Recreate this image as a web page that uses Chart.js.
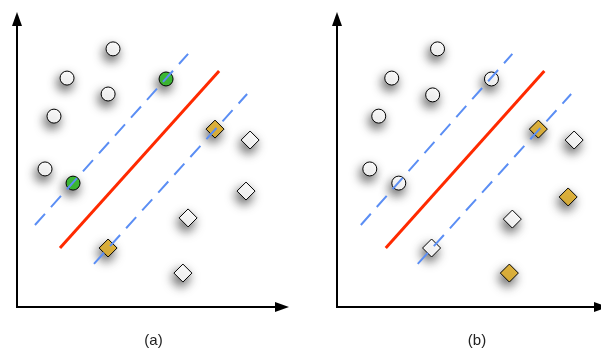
<!DOCTYPE html>
<html>
<head>
<meta charset="utf-8">
<title>SVM margins (a) / (b)</title>
<script src="https://cdn.jsdelivr.net/npm/chart.js@4.4.1/dist/chart.umd.min.js"></script>
<style>
    html, body { margin: 0; padding: 0; background: #fff; }
    #wrap { position: relative; width: 601px; height: 352px; overflow: hidden; }
    .panel { position: absolute; top: 0; height: 352px; }
    #panel-a { left: 0; width: 310px; }
    #panel-b { left: 320px; width: 300px; }
    .caption {
        position: absolute; top: 331px; width: 60px; line-height: 18px;
        text-align: center; color: #222;
        font: 15px "Liberation Sans", Arial, sans-serif;
    }
</style>
</head>
<body>
<div id="wrap">
    <div class="panel" id="panel-a"><canvas id="chart-a"></canvas></div>
    <div class="panel" id="panel-b"><canvas id="chart-b"></canvas></div>
    <div class="caption" style="left: 123.5px;">(a)</div>
    <div class="caption" style="left: 447px;">(b)</div>
</div>
<script>
// both axes run 0..10, arrow tips sit at 10
const AXIS_MAX = 10;

// panel (a) — [x, y]
const aCircles = [[3.53, 8.75], [1.84, 7.76], [3.35, 7.22], [1.36, 6.47], [1.03, 4.68]];
const aCircleSupport = [[5.48, 7.73], [2.06, 4.20]];
const aDiamondSupport = [[7.28, 6.03], [3.35, 2.00]];
const aDiamonds = [[8.57, 5.66], [8.42, 3.93], [6.29, 3.02], [6.10, 1.15]];
const aHyperplane = [[1.58, 2.00], [7.43, 8.00]];
const aMarginUpper = [[0.66, 2.78], [6.29, 8.58]];
const aMarginLower = [[2.83, 1.46], [8.46, 7.22]];

// panel (b)
const bCircles = [[3.71, 8.75], [2.02, 7.76], [3.53, 7.19], [1.54, 6.47], [1.21, 4.68], [2.28, 4.20], [5.70, 7.73]];
const bGoldDiamonds = [[7.43, 6.03], [8.53, 3.73], [6.36, 1.15]];
const bDiamonds = [[8.75, 5.66], [6.47, 2.98], [3.49, 2.00]];
const bHyperplane = [[1.80, 2.00], [7.65, 8.00]];
const bMarginUpper = [[0.88, 2.78], [6.47, 8.58]];
const bMarginLower = [[2.98, 1.46], [8.64, 7.22]];

const GREEN = '#3fbf36';
const GOLD = '#e3b63d';
const RED = '#ff2a00';
const BLUE = '#5b8ef4';

const toXY = pts => pts.map(([x, y]) => ({ x, y }));

// soft drop shadow under the markers only
const dropShadow = {
    id: 'dropShadow',
    beforeDatasetDraw(chart, args) {
        if (!chart.data.datasets[args.index].shadow) return;
        const ctx = chart.ctx;
        ctx.save();
        ctx.shadowColor = 'rgba(0, 0, 0, 0.7)';
        ctx.shadowBlur = 11;
        ctx.shadowOffsetX = -2;
        ctx.shadowOffsetY = 5;
    },
    afterDatasetDraw(chart, args) {
        if (!chart.data.datasets[args.index].shadow) return;
        chart.ctx.restore();
    }
};

// black axes with filled arrowheads
const axesArrows = {
    id: 'axesArrows',
    afterDraw(chart) {
        const { ctx, scales: { x, y } } = chart;
        const x0 = x.getPixelForValue(0), y0 = y.getPixelForValue(0);
        const xEnd = x.getPixelForValue(AXIS_MAX), yEnd = y.getPixelForValue(AXIS_MAX);
        const len = 14, half = 5;
        ctx.save();
        ctx.strokeStyle = '#000';
        ctx.fillStyle = '#000';
        ctx.lineWidth = 2;
        ctx.lineJoin = 'miter';
        ctx.beginPath();
        ctx.moveTo(x0, yEnd + len - 1);
        ctx.lineTo(x0, y0);
        ctx.lineTo(xEnd - len + 1, y0);
        ctx.stroke();

        ctx.beginPath();
        ctx.moveTo(x0, yEnd);
        ctx.lineTo(x0 - half, yEnd + len);
        ctx.lineTo(x0 + half, yEnd + len);
        ctx.closePath();
        ctx.fill();

        ctx.beginPath();
        ctx.moveTo(xEnd, y0);
        ctx.lineTo(xEnd - len, y0 - half);
        ctx.lineTo(xEnd - len, y0 + half);
        ctx.closePath();
        ctx.fill();
        ctx.restore();
    }
};

function lineSet(pts, color, width, dash) {
    return {
        data: toXY(pts),
        showLine: true,
        borderColor: color,
        borderWidth: width,
        borderDash: dash || [],
        borderCapStyle: 'butt',
        pointRadius: 0,
        fill: false,
        order: 0
    };
}

function markerSet(pts, style, fill, radius) {
    return {
        data: toXY(pts),
        showLine: false,
        pointStyle: style,
        pointRadius: radius,
        pointBackgroundColor: fill,
        pointBorderColor: '#000',
        pointBorderWidth: 1,
        shadow: true,
        order: 1
    };
}

function makeChart(id, padding, datasets) {
    return new Chart(document.getElementById(id), {
        type: 'scatter',
        data: { datasets },
        options: {
            responsive: true,
            maintainAspectRatio: false,
            animation: false,
            events: [],
            layout: { padding, autoPadding: false },
            plugins: { legend: { display: false }, tooltip: { enabled: false } },
            scales: {
                x: { type: 'linear', min: 0, max: AXIS_MAX, display: false },
                y: { type: 'linear', min: 0, max: AXIS_MAX, display: false }
            }
        },
        plugins: [dropShadow, axesArrows]
    });
}

makeChart('chart-a', { left: 17, top: 12, right: 21, bottom: 45 }, [
    lineSet(aHyperplane, RED, 3),
    lineSet(aMarginUpper, BLUE, 2, [15, 9]),
    lineSet(aMarginLower, BLUE, 2, [15, 9]),
    markerSet(aCircles, 'circle', '#fff', 7),
    markerSet(aCircleSupport, 'circle', GREEN, 7),
    markerSet(aDiamondSupport, 'rectRot', GOLD, 9),
    markerSet(aDiamonds, 'rectRot', '#fff', 9)
]);

makeChart('chart-b', { left: 17, top: 12, right: 12, bottom: 45 }, [
    lineSet(bHyperplane, RED, 3),
    lineSet(bMarginUpper, BLUE, 2, [15, 9]),
    lineSet(bMarginLower, BLUE, 2, [15, 9]),
    markerSet(bCircles, 'circle', '#fff', 7),
    markerSet(bGoldDiamonds, 'rectRot', GOLD, 9),
    markerSet(bDiamonds, 'rectRot', '#fff', 9)
]);
</script>
</body>
</html>
